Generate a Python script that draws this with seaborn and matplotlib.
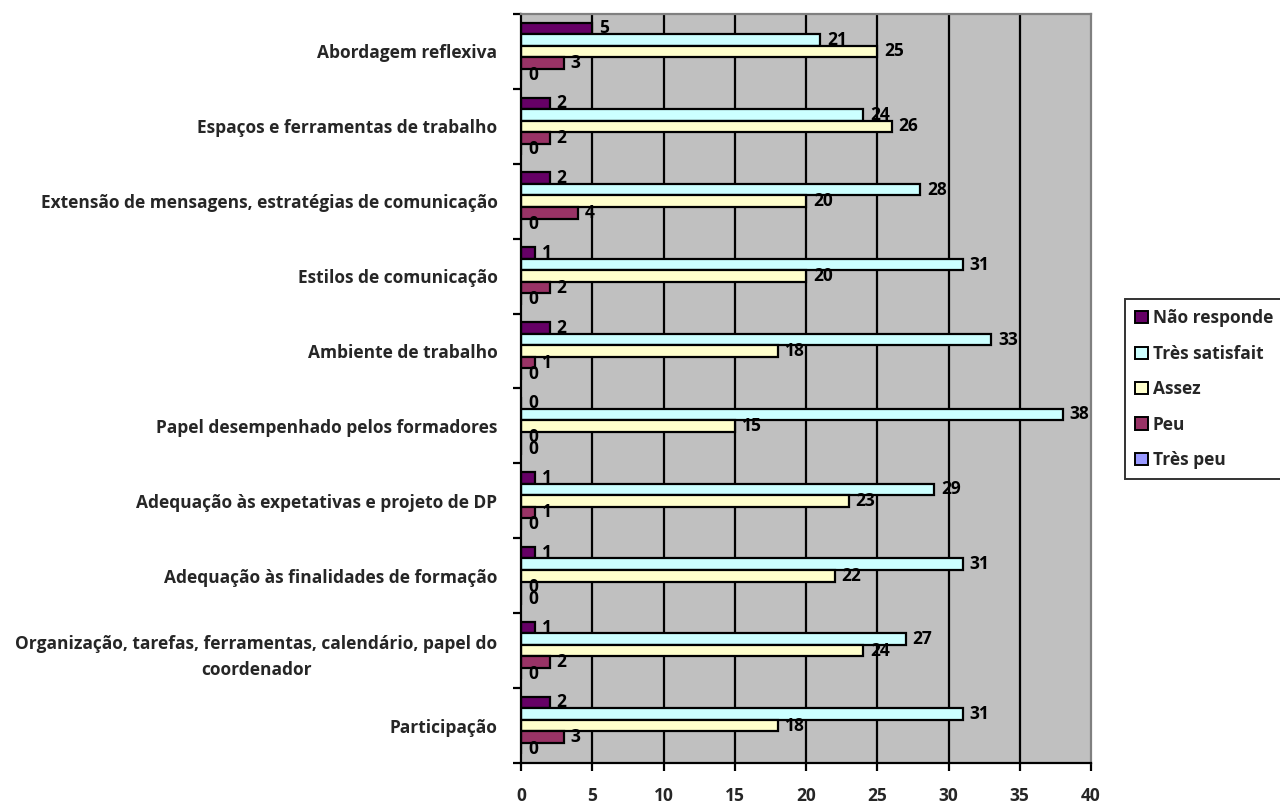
import matplotlib
matplotlib.use("Agg")
import matplotlib.pyplot as plt
import matplotlib.patches as mpatches
import seaborn as sns
import pandas as pd

categories = [
    "Abordagem reflexiva",
    "Espaços e ferramentas de trabalho",
    "Extensão de mensagens, estratégias de comunicação",
    "Estilos de comunicação",
    "Ambiente de trabalho",
    "Papel desempenhado pelos formadores",
    "Adequação às expetativas e projeto de DP",
    "Adequação às finalidades de formação",
    "Organização, tarefas, ferramentas, calendário, papel do\ncoordenador",
    "Participação",
]
series_names = ["Não responde", "Très satisfait", "Assez", "Peu", "Très peu"]
nao_responde = [5, 2, 2, 1, 2, 0, 1, 1, 1, 2]
tres_satisfait = [21, 24, 28, 31, 33, 38, 29, 31, 27, 31]
assez = [25, 26, 20, 20, 18, 15, 23, 22, 24, 18]
peu = [3, 2, 4, 2, 1, 0, 1, 0, 2, 3]
tres_peu = [0, 0, 0, 0, 0, 0, 0, 0, 0, 0]
x_ticks = [0, 5, 10, 15, 20, 25, 30, 35, 40]

colors = ["#660066", "#CCFFFF", "#FFFFCC", "#993366", "#9999FF"]

rows = []
for name, vals in zip(series_names, [nao_responde, tres_satisfait, assez, peu, tres_peu]):
    for cat, v in zip(categories, vals):
        rows.append({"Categoria": cat, "Série": name, "Valor": v})
df = pd.DataFrame(rows)

sns.set_theme(style="white")
plt.rcParams["font.family"] = ["Open Sans", "DejaVu Sans"]
plt.rcParams["font.weight"] = "bold"

FS = 12.5

fig = plt.figure(figsize=(12.8, 8.05), dpi=100)
ax = fig.add_axes([521 / 1280, 1 - 763 / 805, (1091 - 521) / 1280, (763 - 14) / 805])
ax.set_facecolor("#C0C0C0")

sns.barplot(
    data=df, y="Categoria", x="Valor", hue="Série",
    order=categories, hue_order=series_names, palette=colors,
    orient="h", width=0.77, gap=0, edgecolor="black", linewidth=1.6,
    errorbar=None, legend=False, ax=ax, saturation=1,
)

for cont in ax.containers:
    ax.bar_label(cont, labels=[f"{int(round(b.get_width()))}" for b in cont],
                 padding=5, fontsize=FS, fontweight="bold", color="black")

ax.set_xlim(0, 40)
ax.set_xticks(x_ticks)
ax.set_xticklabels([str(t) for t in x_ticks], fontsize=FS, fontweight="bold")
ax.set_ylim(len(categories) - 0.5, -0.5)

for t in x_ticks[1:-1]:
    ax.axvline(t, color="black", linewidth=1.6, zorder=0.5)

ax.set_yticks([i + 0.5 for i in range(-1, len(categories))], minor=False)
ax.set_yticklabels([])
ax.set_yticks(range(len(categories)), minor=True)
ylabels = ax.set_yticklabels(categories, minor=True, fontsize=FS, fontweight="bold",
                             multialignment="center")
for lab in ylabels:
    lab.set_linespacing(1.6)
ax.tick_params(axis="y", which="minor", length=0, pad=17)
ax.tick_params(axis="y", which="major", length=6, width=1.6, color="black", left=True)
ax.tick_params(axis="x", length=6, width=1.6, color="black", bottom=True, pad=11)

ax.set_xlabel("")
ax.set_ylabel("")
ax.grid(False)
for side in ["left", "bottom"]:
    ax.spines[side].set_color("black")
    ax.spines[side].set_linewidth(1.6)
for side in ["top", "right"]:
    ax.spines[side].set_color("#808080")
    ax.spines[side].set_linewidth(1.6)

handles = [mpatches.Patch(facecolor=c, edgecolor="black", linewidth=1.4, label=n)
           for c, n in zip(colors, series_names)]
leg = fig.legend(handles=handles, loc="upper left",
                 bbox_to_anchor=(1125 / 1280, 1 - 299 / 805),
                 frameon=True, fancybox=False, edgecolor="black",
                 fontsize=FS, handlelength=0.7, handleheight=0.7,
                 handletextpad=0.3, labelspacing=1.0, borderpad=0.6,
                 borderaxespad=0)
leg.get_frame().set_linewidth(1.4)
for txt in leg.get_texts():
    txt.set_fontweight("bold")

fig.savefig("out.png", dpi=100)
